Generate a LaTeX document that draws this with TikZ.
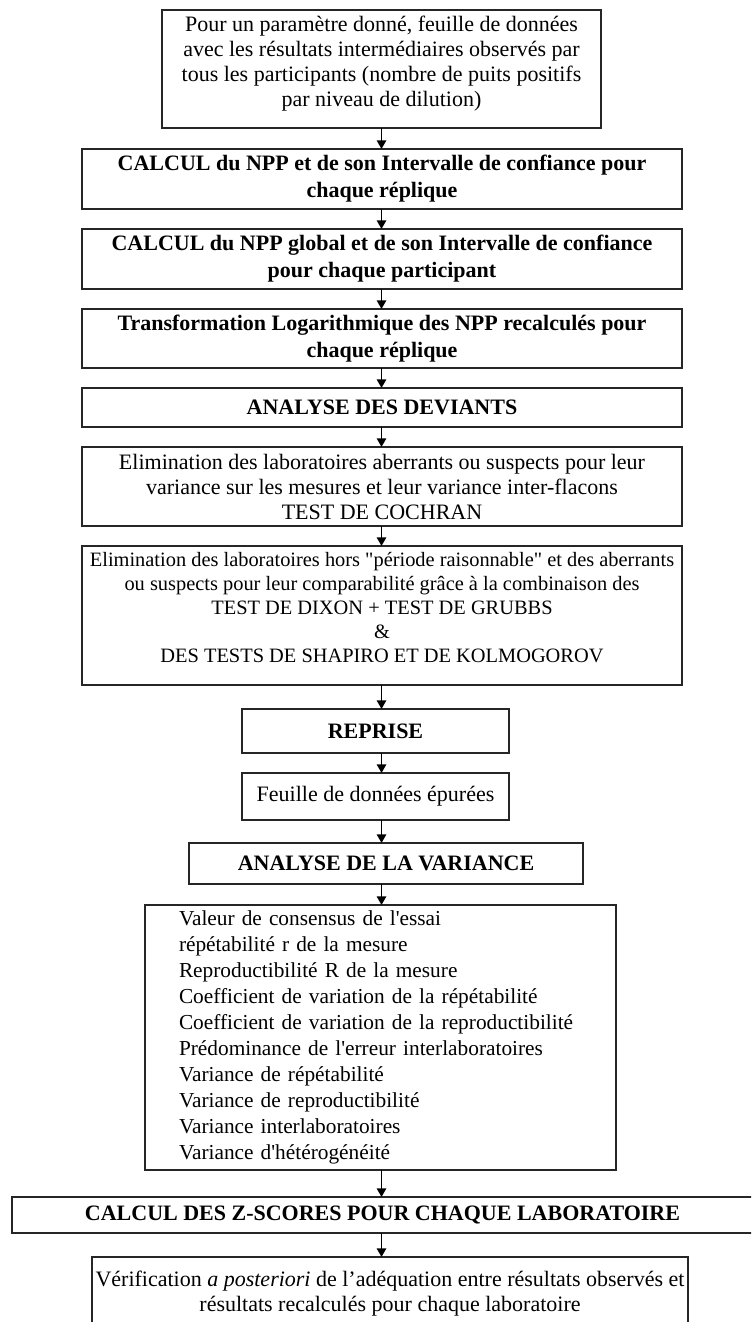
\documentclass[tikz,border=0pt]{standalone}
\usepackage{fontspec}
\setmainfont{Liberation Serif}[Ligatures=TeXOff]
\usetikzlibrary{arrows.meta}

\begin{document}
\begin{tikzpicture}[x=0.75pt, y=-0.75pt, outer sep=0pt,
        every node/.style={draw=black!85, line width=0.8pt, rectangle, anchor=north, inner sep=1pt, align=center, font=\fontsize{16.5pt}{18.75pt}\selectfont},
        titre/.style={font=\fontsize{16.5pt}{20.25pt}\selectfont\bfseries},
        fleche/.style={-{Triangle[length=6.5pt, width=7pt]}, line width=1.3pt}]
        \useasboundingbox (0,0) rectangle (751,1322);
        \clip (0,0) rectangle (751,1322);
        \coordinate (axe) at (381.5,0);

        \node (donnees) [minimum width=329.25pt, minimum height=88.5pt] at (381.5,10) {
            Pour un paramètre donné, feuille de données\\
            avec les résultats intermédiaires observés par\\
            tous les participants (nombre de puits positifs\\
            par niveau de dilution)\\[-6.5pt]
        };
        \node (npp) [titre, minimum width=450pt, minimum height=45pt] at (382,149) {
            CALCUL du NPP et de son Intervalle de confiance pour\\
            chaque réplique
        };
        \node (nppglobal) [titre, minimum width=450pt, minimum height=45pt] at (382,229) {
            CALCUL du NPP global et de son Intervalle de confiance\\
            pour chaque participant
        };
        \node (logtrans) [titre, minimum width=450pt, minimum height=44.25pt] at (382,309) {
            Transformation Logarithmique des NPP recalculés pour\\
            chaque réplique
        };
        \node (deviants) [titre, minimum width=450pt, minimum height=29.25pt] at (382,388) {ANALYSE DES DEVIANTS};
        \node (cochran) [minimum width=450pt, minimum height=59.25pt] at (382,447) {
            Elimination des laboratoires aberrants ou suspects pour leur\\
            variance sur les mesures et leur variance inter-flacons\\
            TEST DE COCHRAN
        };
        \node (grubbs) [minimum width=450pt, minimum height=104.25pt, font=\fontsize{15.3pt}{18pt}\selectfont] at (382,546) {
            Elimination des laboratoires hors "période raisonnable" et des aberrants\\
            ou suspects pour leur comparabilité grâce à la combinaison des\\
            TEST DE DIXON + TEST DE GRUBBS\\
            \&\\
            DES TESTS DE SHAPIRO ET DE KOLMOGOROV\\[-6pt]
        };
        \node (reprise) [titre, minimum width=200.25pt, minimum height=33pt] at (375.5,709) {REPRISE};
        \node (epurees) [minimum width=200.25pt, minimum height=35.25pt] at (375.5,773) {Feuille de données épurées};
        \node (anova) [titre, minimum width=295.5pt, minimum height=30.75pt] at (386,843) {ANALYSE DE LA VARIANCE};
        \node (resultats) [text width=302.25pt, inner xsep=25.5pt, align=left, minimum height=198.75pt, font=\fontsize{16pt}{19.5pt}\selectfont] at (380.5,905) {
            Valeur de consensus de l'essai\\
            répétabilité r de la mesure\\
            Reproductibilité R de la mesure\\
            Coefficient de variation de la répétabilité\\
            Coefficient de variation de la reproductibilité\\
            Prédominance de l'erreur interlaboratoires\\
            Variance de répétabilité\\
            Variance de reproductibilité\\
            Variance interlaboratoires\\
            Variance d'hétérogénéité
        };
        \node (zscores) [titre, minimum width=555.75pt, minimum height=27pt] at (382.5,1197) {CALCUL DES Z-SCORES POUR CHAQUE LABORATOIRE};
        \node (verif) [minimum width=447pt, minimum height=55.5pt] at (390,1257) {
            Vérification \textit{a posteriori} de l’adéquation entre résultats observés et\\
            résultats recalculés pour chaque laboratoire
        };

        \draw[fleche] (donnees.south -| axe) -- (npp.north -| axe);
        \draw[fleche] (npp.south -| axe) -- (nppglobal.north -| axe);
        \draw[fleche] (nppglobal.south -| axe) -- (logtrans.north -| axe);
        \draw[fleche] (logtrans.south -| axe) -- (deviants.north -| axe);
        \draw[fleche] (deviants.south -| axe) -- (cochran.north -| axe);
        \draw[fleche] (cochran.south -| axe) -- (grubbs.north -| axe);
        \draw[fleche] (grubbs.south -| axe) -- (reprise.north -| axe);
        \draw[fleche] (reprise.south -| axe) -- (epurees.north -| axe);
        \draw[fleche] (epurees.south -| axe) -- (anova.north -| axe);
        \draw[fleche] (anova.south -| axe) -- (resultats.north -| axe);
        \draw[fleche] (resultats.south -| axe) -- (zscores.north -| axe);
        \draw[fleche] (zscores.south -| axe) -- (verif.north -| axe);
    \end{tikzpicture}
\end{document}
